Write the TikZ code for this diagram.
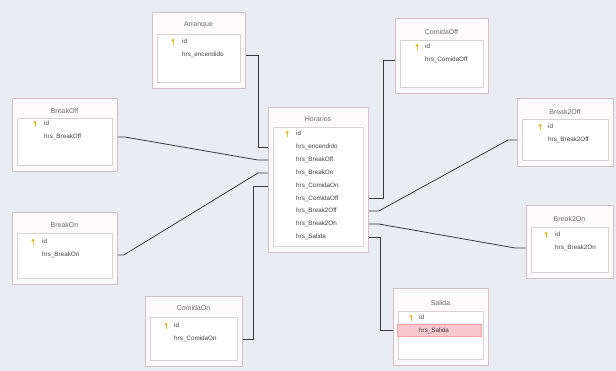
\documentclass[tikz,border=0pt]{standalone}
\usepackage{fontspec}
\setmainfont{Liberation Sans}
\usetikzlibrary{calc}
\definecolor{bgc}{HTML}{E9EDF1}
\definecolor{outc}{HTML}{D2BFC5}
\definecolor{outfill}{HTML}{FCFAFB}
\definecolor{inc}{HTML}{D6D0D3}
\definecolor{ttlc}{HTML}{6E6E6E}
\definecolor{fldc}{HTML}{3E3E3E}
\definecolor{keyc}{HTML}{D8C23A}
\definecolor{linec}{HTML}{3A3A3A}
\definecolor{hlc}{HTML}{F6C8CD}
\tikzset{
  tblbox/.style={draw=outc, fill=outfill, line width=0.8pt, inner sep=0pt},
  inbox/.style={draw=inc, fill=white, line width=0.6pt, inner sep=0pt},
  ttl/.style={inner sep=0pt, font=\fontsize{7}{8}\selectfont, text=ttlc},
  fld/.style={anchor=west, inner sep=0pt, font=\fontsize{6.3}{7}\selectfont, text=fldc, text height=4.6pt, text depth=1.4pt},
  conn/.style={draw=linec, line width=0.8pt},
  hlrow/.style={fill=hlc, draw=hlc!80!red, line width=0.3pt, inner sep=0pt, anchor=west},
  keyicon/.pic={
    \fill[keyc] (0,-1.8) circle (1.6);
    \draw[keyc, line width=0.9pt] (0,-1) -- (0,3.2);
    \draw[keyc, line width=0.7pt] (0,1.8) -- (1.3,1.8);
  }
}
% name, title, x1, y1, x2, y2, inner top, title y
\newcommand{\dbframe}[8]{%
  \node[tblbox, anchor=north west, minimum width={(#5-#3)*1pt}, minimum height={(#6-#4)*1pt}] (#1) at (#3,#4) {};
  \node[inbox, anchor=north west, minimum width={(#5-#3-10)*1pt}, minimum height={(#6-#7-6)*1pt}] (#1-in) at (#3+5,#7) {};
  \node[ttl] (#1-t) at ({(#3+#5)/2},#8) {#2};
}
% name, key x, text x, y
\newcommand{\dbkey}[4]{%
  \pic at (#2,#4) {keyicon};
  \node[fld] (#1-id) at (#3,#4) {id};
}
\newcommand{\dbfld}[4]{%
  \node[fld] (#1) at (#2,#3) {#4};
}
\begin{document}
\begin{tikzpicture}[x=1pt,y=-1pt]
\useasboundingbox (0,0) rectangle (616,371);
\fill[bgc] (0,0) rectangle (616,371);

% Arranque
\dbframe{Arr}{Arranque}{152}{12}{245}{88}{34}{25}
\dbkey{Arr}{173}{182}{42}
\dbfld{Arr-f1}{182}{55}{hrs\_encendido}

% BreakOff
\dbframe{BOff}{BreakOff}{12}{98}{117}{171}{118}{111}
\dbkey{BOff}{35}{44}{124}
\dbfld{BOff-f1}{44}{137}{hrs\_BreakOff}

% BreakOn
\dbframe{BOn}{BreakOn}{12}{212}{117}{284}{233}{225}
\dbkey{BOn}{33}{42}{242}
\dbfld{BOn-f1}{42}{255}{hrs\_BreakOn}

% ComidaOn
\dbframe{COn}{ComidaOn}{145}{296}{242}{366}{317}{308}
\dbkey{COn}{166}{174}{326}
\dbfld{COn-f1}{174}{339}{hrs\_ComidaOn}

% Horarios
\dbframe{Hor}{Horarios}{268}{107}{368}{252}{127}{119}
\dbkey{Hor}{287}{296}{134}
\dbfld{Hor-f1}{296}{147}{hrs\_encendido}
\dbfld{Hor-f2}{296}{160}{hrs\_BreakOff}
\dbfld{Hor-f3}{296}{173}{hrs\_BreakOn}
\dbfld{Hor-f4}{296}{186}{hrs\_ComidaOn}
\dbfld{Hor-f5}{296}{198.5}{hrs\_ComidaOff}
\dbfld{Hor-f6}{296}{211}{hrs\_Break2Off}
\dbfld{Hor-f7}{296}{224}{hrs\_Break2On}
\dbfld{Hor-f8}{296}{237}{hrs\_Salida}

% ComidaOff
\dbframe{COff}{ComidaOff}{395}{18}{488}{93}{40}{32}
\dbkey{COff}{417}{425}{47}
\dbfld{COff-f1}{425}{60}{hrs\_ComidaOff}

% Break2Off
\dbframe{BTOff}{Break2Off}{517}{98}{613}{166}{119}{112}
\dbkey{BTOff}{540}{548}{127}
\dbfld{BTOff-f1}{548}{140}{hrs\_Break2Off}

% Break2On
\dbframe{BTOn}{Break2On}{526}{205}{613}{278}{227}{219}
\dbkey{BTOn}{546}{555}{235}
\dbfld{BTOn-f1}{555}{248}{hrs\_Break2On}

% Salida
\dbframe{Sal}{Salida}{393}{288}{488}{365}{311}{303}
\node[hlrow, minimum width=84pt, minimum height=12pt] (Sal-hl) at (397,330.5) {};
\dbkey{Sal}{411}{419}{318}
\dbfld{Sal-f1}{419}{330.5}{hrs\_Salida}

% connectors
\draw[conn] (Arr.east |- Arr-f1) -- ++(13,0) |- (Hor.west |- Hor-f1);
\draw[conn] (BOff.east |- BOff-f1) -- ++(7,0) -- ($(Hor.west |- Hor-f2)+(-10,0)$) -- (Hor.west |- Hor-f2);
\draw[conn] (BOn.east |- BOn-f1) -- ++(6,0) -- ($(Hor.west |- Hor-f3)+(-10,0)$) -- (Hor.west |- Hor-f3);
\draw[conn] (COn.east |- COn-f1) -- ++(11,0) |- (Hor.west |- Hor-f4);
\draw[conn] (Hor.east |- Hor-f5) -- ++(15,0) |- (COff.west |- COff-f1);
\draw[conn] (Hor.east |- Hor-f6) -- ++(10,0) -- ($(BTOff.west |- BTOff-f1)+(-9,0)$) -- (BTOff.west |- BTOff-f1);
\draw[conn] (Hor.east |- Hor-f7) -- ++(10,0) -- ($(BTOn.west |- BTOn-f1)+(-11,0)$) -- (BTOn.west |- BTOn-f1);
\draw[conn] (Hor.east |- Hor-f8) -- ++(12,0) |- (Sal.west |- Sal-f1);
\end{tikzpicture}
\end{document}
